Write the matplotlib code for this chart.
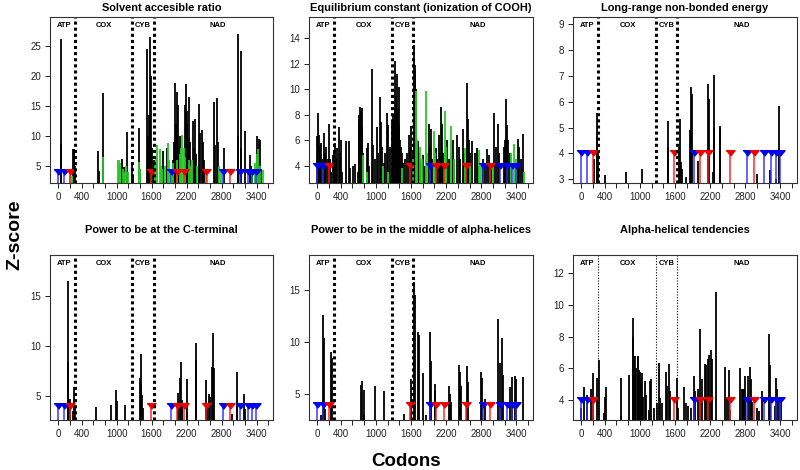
import numpy as np
import matplotlib
matplotlib.use('Agg')
import matplotlib.pyplot as plt

plt.rcParams['font.family'] = ['Liberation Sans', 'DejaVu Sans']

# ---- data (codon position, z-score) ----
# marker positions shared by every panel
blue_x = [0, 100, 1930, 2820, 3115, 3245, 3325, 3385]
red_x = [195, 1590, 2030, 2162, 2539, 2950]
marker_y = 4

# Solvent accesible ratio
sa_black_x = [40, 46, 55, 250, 262, 275, 288, 675, 690, 766, 775, 1086, 1100, 1130, 1178, 1185, 1260, 1275,
              1390, 1398, 1516, 1530, 1545, 1560, 1572, 1580, 1592, 1605, 1640, 1800, 1857, 1960, 1985, 2000,
              2012, 2040, 2057, 2070, 2090, 2172, 2189, 2200, 2212, 2230, 2246, 2260, 2314, 2330, 2343, 2360,
              2412, 2429, 2457, 2486, 2500, 2669, 2690, 2726, 2740, 2840, 3075, 3090, 3126, 3140, 3210, 3286,
              3300, 3412, 3425, 3440, 3457, 3480]
sa_black_y = [8.7, 26.2, 4.0, 7.8, 7.6, 7.9, 5.0, 7.6, 4.2, 17.2, 5.5, 6.2, 5.5, 4.8, 10.6, 4.5, 5.2, 3.5,
              11.3, 4.5, 24.4, 10.0, 8.0, 13.5, 26.5, 13.5, 20.0, 8.0, 6.0, 7.5, 8.0, 6.0, 9.0, 18.8,
              12.0, 17.3, 15.2, 8.0, 10.0, 15.2, 18.6, 12.0, 14.2, 9.5, 16.5, 9.0, 12.5, 8.0, 12.8, 7.0,
              15.3, 10.5, 11.0, 9.0, 6.0, 15.6, 8.5, 16.3, 9.0, 8.0, 26.9, 10.0, 24.1, 8.0, 10.9, 6.8,
              5.0, 10.0, 7.5, 9.5, 9.3, 4.5]
sa_green_x = [200, 230, 775, 1030, 1046, 1060, 1110, 1125, 1160, 1200, 1389, 1400, 1650, 1670, 1687, 1700,
              1745, 1760, 1780, 1830, 1886, 1900, 1920, 1960, 2030, 2080, 2110, 2130, 2150, 2170, 2240, 2270,
              2300, 2380, 2550, 2760, 2790, 3330, 3380, 3400, 3428, 3460, 3512]
sa_green_y = [3.5, 3.3, 6.5, 6.0, 6.1, 5.5, 4.5, 4.0, 5.0, 4.0, 5.7, 4.5, 5.5, 6.5, 8.5, 6.0,
              7.8, 5.0, 4.5, 5.0, 8.8, 6.0, 4.5, 5.5, 6.0, 7.0, 8.0, 10.2, 8.0, 6.5, 6.0, 5.0,
              6.0, 5.0, 4.0, 5.0, 4.5, 4.0, 5.5, 7.0, 7.8, 5.0, 4.3]

# Equilibrium constant (ionization of COOH)
ec_black_x = [0, 12, 25, 46, 69, 90, 114, 130, 154, 175, 194, 215, 240, 270,
              290, 308, 325, 342, 370, 385, 398, 420,
              495, 535, 560, 609, 643, 690, 705, 715, 725, 735, 745, 755, 762, 775, 853, 870, 890, 938,
              950, 980, 1024, 1040, 1064, 1080, 1100, 1130, 1160, 1188, 1210, 1240,
              1280, 1290, 1300, 1308, 1318, 1330, 1340, 1352, 1365, 1375, 1388, 1400, 1415, 1430, 1450,
              1470, 1500, 1530, 1563, 1580, 1592, 1610, 1630, 1649, 1660, 1672, 1685, 1700,
              1717, 1740, 1760, 1800, 1830, 1899, 1920, 1944, 1960, 2020, 2050, 2069, 2090, 2104, 2126,
              2140, 2217, 2240, 2314, 2340, 2388, 2420, 2440, 2484, 2500, 2553, 2570, 2590, 2610, 2638,
              2690, 2723, 2750, 2820, 2870, 2899, 2928, 2960, 3013, 3050, 3093, 3110, 3180, 3200, 3223,
              3240, 3255, 3290, 3422, 3450, 3480, 3507]
ec_black_y = [6.3, 8.1, 6.4, 5.6, 5.8, 4.5, 6.6, 5.0, 5.5, 4.5, 7.3, 4.5, 3.5, 4.8,
              5.2, 5.8, 4.6, 5.4, 7.0, 5.0, 6.0, 3.5,
              5.9, 5.9, 3.8, 4.0, 4.1, 3.5, 7.5, 8.0, 8.6, 7.8, 8.3, 7.0, 8.5, 5.0, 5.4, 5.8, 4.0, 11.6,
              5.6, 4.5, 7.0, 5.0, 9.4, 7.4, 5.5, 4.2, 5.0, 8.1, 7.2, 5.5,
              7.6, 7.9, 6.5, 7.4, 8.5, 12.2, 9.5, 7.0, 11.2, 8.5, 10.2, 7.2, 6.0, 5.5, 5.0,
              4.2, 4.5, 5.0, 6.4, 5.5, 7.1, 4.5, 5.0, 13.5, 11.4, 11.9, 10.0, 5.9,
              5.9, 5.0, 4.3, 4.8, 4.0, 7.25, 5.5, 6.9, 4.5, 5.4, 4.5, 6.4, 5.0, 8.6, 7.3,
              5.0, 6.0, 4.5, 6.0, 4.5, 6.4, 5.5, 4.5, 6.9, 5.0, 10.5, 7.7, 6.0, 5.0, 5.9,
              5.0, 5.4, 4.0, 4.5, 4.0, 5.3, 4.8, 4.0, 8.1, 5.5, 7.3, 5.0, 5.5, 6.0, 9.2,
              7.2, 6.0, 5.0, 6.1, 5.5, 4.5, 6.5]
ec_green_x = [779, 850, 1124, 1200, 1450, 1637, 1690, 1710, 1747, 1780, 1859, 1880, 1990, 2010, 2183, 2200,
              2274, 2290, 2330, 2520, 2600, 2758, 2800, 3000, 3300, 3365, 3390, 3520]
ec_green_y = [4.8, 3.5, 4.0, 3.5, 3.8, 4.5, 9.9, 6.0, 5.5, 4.5, 9.9, 5.0, 6.7, 5.0, 8.3, 5.5,
              7.1, 5.0, 4.5, 5.4, 4.0, 5.2, 4.0, 4.0, 5.0, 5.7, 4.5, 3.5]

# Long-range non-bonded energy
lr_x = [209, 262, 271, 276, 285, 407, 764, 1036, 1473, 1480, 1671, 1688, 1705, 1715, 1784, 1858, 1875, 1886,
        1999, 2170, 2180, 2240, 2260, 2265, 2363, 2370, 2375, 2999, 3213, 3330, 3371, 3380]
lr_y = [3.77, 4.3, 5.55, 4.65, 4.0, 3.15, 3.27, 3.4, 5.26, 4.25, 4.25, 5.35, 3.66, 3.4, 3.1, 4.9, 6.58, 6.3,
        3.7, 6.7, 6.1, 3.3, 7.03, 5.0, 5.06, 4.0, 4.95, 3.2, 3.38, 3.0, 5.83, 4.2]

# Power to be at the C-terminal
ct_x = [160, 166, 175, 200, 245, 270, 280, 651, 903, 994, 1010, 1149, 1400, 1411, 1425, 1440, 1460,
        2046, 2086, 2103, 2120, 2200, 2215, 2360, 2370, 2531, 2550, 2589, 2610, 2640, 2657, 2670,
        2971, 3057, 3070, 3189, 3205]
ct_y = [16.5, 8.4, 6.0, 4.7, 3.5, 5.9, 4.0, 3.9, 4.1, 5.6, 4.5, 4.1, 6.8, 9.2, 6.1, 5.1, 3.8,
        5.3, 6.8, 8.4, 4.6, 6.7, 3.4, 10.25, 8.6, 6.6, 4.2, 5.2, 4.9, 7.9, 11.25, 7.8,
        3.2, 7.35, 4.5, 5.2, 3.7]

# Power to be in the middle of alpha-helices
mh_x = [63, 92, 103, 115, 130, 234, 250, 751, 768, 790, 800, 990, 1132, 1479, 1592, 1649, 1670, 1712, 1728,
        1802, 1860, 1922, 1940, 2001, 2012, 2246, 2270, 2290, 2411, 2430, 2460, 2558, 2575, 2792, 2810,
        2865, 3093, 3115, 3150, 3165, 3297, 3326, 3383, 3400, 3513]
mh_y = [3.0, 3.6, 12.6, 10.4, 3.6, 9.1, 8.5, 5.9, 6.3, 5.4, 3.0, 5.8, 5.3, 3.1, 6.5, 15.8, 14.5, 11.0, 10.7,
        7.0, 3.0, 11.0, 8.2, 6.0, 5.3, 5.8, 5.0, 4.3, 7.8, 7.1, 5.8, 7.7, 6.2, 7.1, 6.6,
        4.6, 12.2, 8.0, 10.4, 6.9, 5.7, 6.7, 6.8, 6.5, 6.7]

# Alpha-helical tendencies
ah_x = [-6, 50, 90, 164, 203, 260, 300, 385, 410, 419,
        674, 685, 810, 878, 889, 900, 923, 940, 963, 968, 985, 1000, 1020, 1042, 1060, 1093, 1110, 1150,
        1172, 1184, 1240, 1297,
        1320, 1340, 1380, 1450, 1460, 1495, 1510, 1637, 1650,
        1745, 1790, 1818, 1864, 1920, 1943, 1988, 2034, 2056, 2113, 2136, 2158, 2187, 2215, 2232, 2300,
        2459, 2481, 2527, 2544, 2714, 2736, 2753, 2782, 2799, 2838, 2878, 2895, 2912, 2997, 3025, 3093,
        3207, 3224, 3303, 3331, 3348, 3382, 3405]
ah_y = [3.5, 4.85, 4.3, 4.7, 5.7, 5.4, 6.5, 3.2, 4.2, 4.8,
        5.4, 3.0, 5.6, 9.15, 8.0, 6.8, 6.8, 6.0, 6.8, 6.7, 5.9, 5.8, 5.4, 5.7, 4.2, 5.2, 4.3, 3.4,
        5.2, 5.3, 3.5, 3.8,
        6.35, 4.1, 3.8, 5.8, 4.9, 6.3, 4.6, 5.4, 3.5,
        4.8, 3.8, 3.6, 3.5, 5.5, 4.6, 4.7, 8.5, 5.3, 6.25, 6.2, 6.6, 6.85, 7.15, 6.6, 10.8,
        6.1, 4.2, 5.9, 3.4, 6.0, 4.7, 4.7, 4.7, 5.5, 5.5, 6.1, 5.3, 3.9, 3.5, 3.3, 4.6,
        8.2, 6.2, 3.6, 5.4, 4.7, 4.1, 3.9]

region_names = ['ATP', 'COX', 'CYB', 'NAD']
region_centers = [105, 790, 1450, 2740]
region_bounds = [285, 1270, 1640]

xtick_pos = list(range(0, 3601, 200))
xtick_shown = [0, 400, 1000, 1600, 2200, 2800, 3400]

W, H = 800, 470
fig = plt.figure(figsize=(8, 4.7), dpi=100)


def panel(left, top, right, bottom, title, title_y, bx, by, gx, gy, ylim, yticks, thin=False):
    ax = fig.add_axes([left / W, 1 - bottom / H, (right - left) / W, (bottom - top) / H])
    ax.vlines(bx, 0, by, color='black', lw=1.3)
    if gx is not None:
        ax.vlines(gx, 0, gy, color='#22cc22', lw=1.3)
    # marker stems and triangles
    tri = [(-1, 0.62), (1, 0.62), (0, -0.62)]
    ax.vlines(blue_x, 0, marker_y, color='#3030ff', lw=1.4, alpha=0.75)
    ax.vlines(red_x, 0, marker_y, color='#ff2020', lw=1.4, alpha=0.75)
    ax.plot(blue_x, [marker_y] * len(blue_x), ls='none', marker=tri, ms=6.5, color='#0000ee', mec='#0000ee')
    ax.plot(red_x, [marker_y] * len(red_x), ls='none', marker=tri, ms=6.5, color='#ee0000', mec='#ee0000')
    # region boundaries
    for b in region_bounds:
        if thin:
            ax.axvline(b, color='black', lw=0.8, ls=(0, (1, 1.5)))
        else:
            ax.axvline(b, color='black', lw=2.2, ls=(0, (1, 1)))
    for name, c in zip(region_names, region_centers):
        ax.text(c, 0.95, name, transform=ax.get_xaxis_transform(), ha='center', va='center',
                fontsize=5.5, fontweight='bold')
    ax.set_xlim(-142, 3682)
    ax.set_ylim(*ylim)
    ax.set_xticks(xtick_pos)
    ax.set_xticklabels([str(t) if t in xtick_shown else '' for t in xtick_pos])
    ax.set_yticks(yticks)
    ax.set_yticklabels([str(t) for t in yticks])
    ax.tick_params(length=3.5, width=0.7, labelsize=7, pad=3, colors='#222222')
    for s in ax.spines.values():
        s.set_linewidth(0.8)
        s.set_color('#333333')
    fig.text((left + right) / 2 / W, 1 - title_y / H, title, ha='center', va='center',
             fontsize=7.9, fontweight='bold')
    return ax


panel(50, 17, 273, 183, 'Solvent accesible ratio', 8, sa_black_x, sa_black_y, sa_green_x, sa_green_y,
      (2.2, 29.8), [5, 10, 15, 20, 25])
panel(309, 17, 533, 183, 'Equilibrium constant (ionization of COOH)', 8, ec_black_x, ec_black_y,
      ec_green_x, ec_green_y, (2.64, 15.67), [4, 6, 8, 10, 12, 14])
panel(573, 17, 797, 183, 'Long-range non-bonded energy', 8, lr_x, lr_y, None, None,
      (2.86, 9.27), [3, 4, 5, 6, 7, 8, 9])
panel(50, 255, 273, 420, 'Power to be at the C-terminal', 230, ct_x, ct_y, None, None,
      (2.56, 19.1), [5, 10, 15])
panel(309, 255, 533, 420, 'Power to be in the middle of alpha-helices', 230, mh_x, mh_y, None, None,
      (2.54, 18.36), [5, 10, 15])
panel(573, 255, 797, 420, 'Alpha-helical tendencies', 230, ah_x, ah_y, None, None,
      (2.74, 13.16), [4, 6, 8, 10, 12], thin=True)

fig.text(15 / W, 1 - 235 / H, 'Z-score', rotation=90, ha='center', va='center', fontsize=14, fontweight='bold')
fig.text(406 / W, 1 - 461 / H, 'Codons', ha='center', va='center', fontsize=13.5, fontweight='bold')

fig.savefig('out.png', dpi=100)
